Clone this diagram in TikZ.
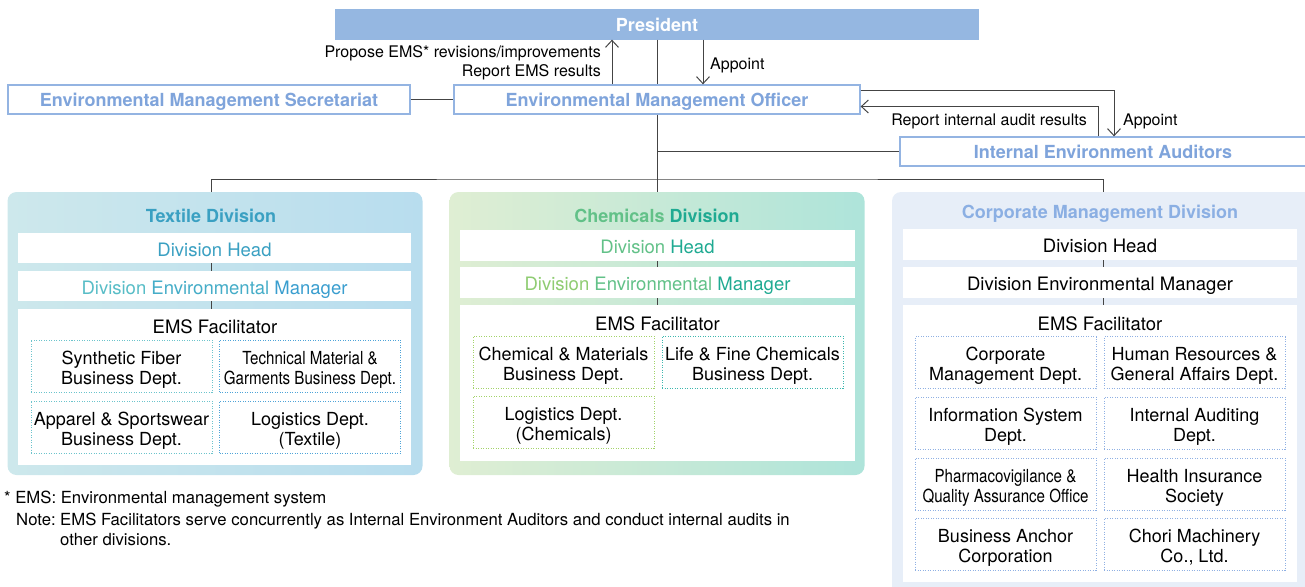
\documentclass[tikz,border=0pt]{standalone}
\usepackage{fontspec}
\setmainfont{TeX Gyre Heros}
\newfontfamily\narrowfont[FakeStretch=0.84]{TeX Gyre Heros}
\usetikzlibrary{arrows.meta}
\usepackage{color}

\definecolor{presblue}{HTML}{95B7E1}
\definecolor{topline}{HTML}{94B4E2}
\definecolor{toptext}{HTML}{7FA4DB}
\definecolor{linegray}{HTML}{444444}
\definecolor{texleft}{HTML}{CDE8EC}
\definecolor{texright}{HTML}{B8DDEE}
\definecolor{textitle}{HTML}{3AA0C2}
\definecolor{texlight}{HTML}{58BDC7}
\definecolor{texmid}{HTML}{45ADC8}
\definecolor{texdark}{HTML}{3A9ECF}
\definecolor{texdotl}{HTML}{6CC4CC}
\definecolor{texdotr}{HTML}{4EA4D8}
\definecolor{chemleft}{HTML}{DFEED3}
\definecolor{chemright}{HTML}{AEE4DA}
\definecolor{chemlight}{HTML}{8FCC72}
\definecolor{chemgreen}{HTML}{62C188}
\definecolor{chemteal}{HTML}{1FAA92}
\definecolor{chemdotl}{HTML}{A3D36A}
\definecolor{chemdotr}{HTML}{3DB7AE}
\definecolor{corpfill}{HTML}{E7EEF8}
\definecolor{corptitle}{HTML}{8BAFE3}
\definecolor{corpdot}{HTML}{8FB0E3}

\newcommand\boxfont{\fontsize{18.5}{21}\selectfont}
\newcommand\deptfont{\fontsize{18}{20}\selectfont}
\newcommand\hdfont{\fontsize{18}{21}\selectfont\bfseries}
\newcommand\lblfont{\fontsize{16}{19}\selectfont}
\newcommand\notefont{\fontsize{16.7}{20}\selectfont}
\newcommand\dl{\rule{0pt}{20pt}}

\begin{document}
\begin{tikzpicture}[x=1pt, y=-1pt,
  conn/.style={draw=linegray, line width=1pt},
  arr/.style={-{Straight Barb[length=7pt,width=13pt]}},
  topbox/.style={draw=topline, line width=1.3pt, fill=white, text=toptext,
    font=\hdfont, minimum height=29pt, inner sep=0pt, text height=14pt, text depth=0pt},
  division/.style={rounded corners=9pt, inner sep=0pt},
  row/.style={fill=white, inner sep=0pt, font=\boxfont, text height=16pt, text depth=0pt},
  dept/.style={dash pattern=on 1pt off 1.5pt, line width=1pt, inner sep=0pt,
    minimum width=181pt, minimum height=52pt, align=center, font=\deptfont},
  lbl/.style={font=\lblfont, inner sep=0pt}]
\useasboundingbox (0,0) rectangle (1305,586);

% top of the chart
\node[topbox, fill=presblue, draw=presblue, text=white, minimum width=642pt] (pres) at (657,24.5) {President};
\node[topbox, minimum width=402pt] (sec) at (209,99.5) {Environmental Management Secretariat};
\node[topbox, minimum width=406pt] (emo) at (657,99.5) {Environmental Management Officer};
\node[topbox, minimum width=406pt] (iea) at (1103,151.5) {Internal Environment Auditors};

\node[lbl, anchor=east, align=right] (proplbl) at (601,62.5) {Propose EMS* revisions/improvements\\Report EMS results};
\node[lbl, anchor=west] (appointlbl) at (710,65) {Appoint};
\node[lbl, anchor=east] (reportlbl) at (1087,121) {Report internal audit results};
\node[lbl, anchor=west] (audappointlbl) at (1123,121) {Appoint};

% divisions
\node[division, left color=texleft, right color=texright, minimum width=415pt, minimum height=283pt] (tex) at (215,333.5) {};
\node[division, left color=chemleft, right color=chemright, minimum width=415pt, minimum height=283pt] (chem) at (657,333.5) {};
\node[division, fill=corpfill, minimum width=426pt, minimum height=408pt] (corp) at (1105,396) {};

\draw[conn] (pres) -- (emo);
\draw[conn] (sec) -- (emo);
\draw[conn] (emo) -- (chem);
\draw[conn, arr] ([xshift=-45pt]emo.north) -- ([xshift=-45pt]pres.south);
\draw[conn, arr] ([xshift=46pt]pres.south) -- ([xshift=46pt]emo.north);
\draw[conn, arr] ([yshift=9pt]emo.east) -| ([xshift=11pt]iea.north);
\draw[conn, arr] ([xshift=-5pt]iea.north) |- ([yshift=-7pt]emo.east);
\coordinate (auditjoin) at (657,151.5);
\draw[conn] (auditjoin) -- (iea);
\coordinate (bar) at (657,179);
\draw[conn] ([xshift=-4pt]tex.north) |- (bar) -| ([xshift=-2pt]corp.north);

% textile
\node[font=\hdfont, text=textitle] (textitle) at (211,216) {Textile Division};
\node[row, minimum width=393pt, minimum height=30pt, text=textitle] (texhead) at (214.5,248) {Division Head};
\node[row, minimum width=393pt, minimum height=30pt] (texdem) at (214.5,286)
  {\textcolor{texlight}{Division} \textcolor{texmid}{Environmental} \textcolor{texdark}{Manager}};
\node[row, minimum width=393pt, minimum height=156pt] (texems) at (214.5,387) {};
\node[font=\boxfont, inner sep=0pt] (texfac) at (215,327) {EMS Facilitator};
\draw[conn] ([xshift=-3.5pt]texhead.south) -- ([xshift=-3.5pt]texdem.north);
\draw[conn] ([xshift=-3.5pt]texdem.south) -- ([xshift=-3.5pt]texems.north);
\node[dept, draw=texdotl] (synth) at (121.5,366) {\dl Synthetic Fiber\\Business Dept.};
\node[dept, draw=texdotr, font=\narrowfont\deptfont] (techmat) at (310,366) {\dl Technical Material \&\\Garments Business Dept.};
\node[dept, draw=texdotl] (apparel) at (121.5,427) {\dl Apparel \& Sportswear\\Business Dept.};
\node[dept, draw=texdotr] (texlog) at (310,427) {\dl Logistics Dept.\\(Textile)};

% chemicals
\node[font=\hdfont] (chemtitle) at (657,216) {\textcolor{chemgreen}{Chemicals} \textcolor{chemteal}{Division}};
\node[row, minimum width=395pt, minimum height=31pt] (chemhead) at (657.5,245.5)
  {\textcolor{chemgreen}{Division} \textcolor{chemteal}{Head}};
\node[row, minimum width=395pt, minimum height=31pt] (chemdem) at (657.5,282.5)
  {\textcolor{chemlight}{Division} \textcolor{chemgreen}{Environmental} \textcolor{chemteal}{Manager}};
\node[row, minimum width=395pt, minimum height=156pt] (chemems) at (657.5,383) {};
\node[font=\boxfont, inner sep=0pt] (chemfac) at (657.5,324) {EMS Facilitator};
\draw[conn] (chemhead) -- (chemdem);
\draw[conn] (chemdem) -- (chemems);
\node[dept, draw=chemdotl] (chemmat) at (563.5,362) {\dl Chemical \& Materials\\Business Dept.};
\node[dept, draw=chemdotr] (lifefine) at (752.5,362) {\dl Life \& Fine Chemicals\\Business Dept.};
\node[dept, draw=chemdotl] (chemlog) at (563.5,422) {\dl Logistics Dept.\\(Chemicals)};

% corporate management
\node[font=\hdfont, text=corptitle] (corptitle) at (1100,214) {Corporate Management Division};
\node[row, minimum width=394pt, minimum height=31pt] (corphead) at (1100,244.5) {Division Head};
\node[row, minimum width=394pt, minimum height=31pt] (corpdem) at (1100,282.5) {Division Environmental Manager};
\node[row, minimum width=394pt, minimum height=277pt] (corpems) at (1100,443.5) {};
\node[font=\boxfont, inner sep=0pt] (corpfac) at (1100,324) {EMS Facilitator};
\draw[conn] ([xshift=3pt]corphead.south) -- ([xshift=3pt]corpdem.north);
\draw[conn] ([xshift=3pt]corpdem.south) -- ([xshift=3pt]corpems.north);
\node[dept, draw=corpdot] (corpmgmt) at (1005.5,362.5) {\dl Corporate\\Management Dept.};
\node[dept, draw=corpdot] (hrga) at (1194.5,362.5) {\dl Human Resources \&\\General Affairs Dept.};
\node[dept, draw=corpdot] (infosys) at (1005.5,423) {\dl Information System\\Dept.};
\node[dept, draw=corpdot] (intaudit) at (1194.5,423) {\dl Internal Auditing\\Dept.};
\node[dept, draw=corpdot, font=\narrowfont\deptfont] (pharma) at (1005.5,484) {\dl Pharmacovigilance \&\\Quality Assurance Office};
\node[dept, draw=corpdot] (health) at (1194.5,484) {\dl Health Insurance\\Society};
\node[dept, draw=corpdot] (anchor) at (1005.5,544) {\dl Business Anchor\\Corporation};
\node[dept, draw=corpdot] (chori) at (1194.5,544) {\dl Chori Machinery\\Co., Ltd.};

% notes
\node[lbl, font=\notefont, anchor=west] (emsnote) at (4,499) {* EMS: Environmental management system};
\node[lbl, font=\notefont, anchor=north west] (notelbl) at (16,513) {Note:};
\node[lbl, font=\notefont, anchor=north west, align=left] (notetext) at (60,513)
  {EMS Facilitators serve concurrently as Internal Environment Auditors and conduct internal audits in\\other divisions.};
\end{tikzpicture}
\end{document}
